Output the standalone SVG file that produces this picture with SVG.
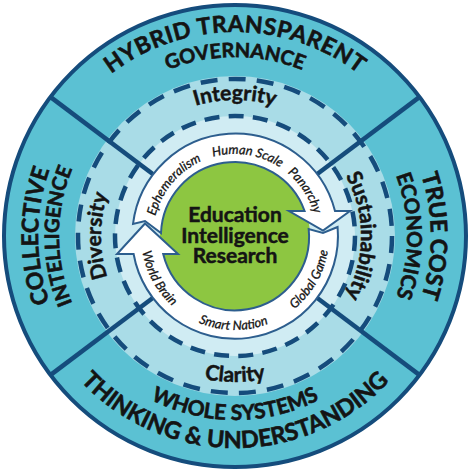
<svg xmlns="http://www.w3.org/2000/svg" width="470" height="470" viewBox="0 0 470 470">
<style>
.big{font-family:Lato,"Open Sans","Liberation Sans",sans-serif;font-weight:700;fill:#141414;stroke:#141414;stroke-width:0.6}
.mid{font-family:Lato,"Open Sans","Liberation Sans",sans-serif;font-weight:700;fill:#141414;stroke:#141414;stroke-width:0.5;font-size:21px}
.sm{font-family:Lato,"Open Sans","Liberation Sans",sans-serif;font-style:italic;fill:#141414;stroke:#141414;stroke-width:0.3;font-size:12.8px}
.ctr{font-family:Lato,"Open Sans","Liberation Sans",sans-serif;font-weight:700;fill:#141414;stroke:#141414;stroke-width:0.5;font-size:21px;text-anchor:middle}
.dash1{fill:none;stroke:#154C7C;stroke-width:4.5;stroke-dasharray:17 11.2}
.dash2{fill:none;stroke:#154C7C;stroke-width:4.5;stroke-dasharray:15 9.3}
.div{stroke:#154C7C;stroke-width:4.5;stroke-linecap:butt}
.arrow{fill:#fff;stroke:#2D5E8E;stroke-width:2;stroke-linejoin:miter}
</style>
<defs>
<path id="pTop1" d="M 31 236 A 204 204 0 0 1 439 236"/>
<path id="pTop2" d="M 56 236 A 179 179 0 0 1 414 236"/>
<path id="pLeft1" d="M 235 433 A 197 197 0 0 1 235 39"/>
<path id="pLeft2" d="M 235 412 A 176 176 0 0 1 235 60"/>
<path id="pRight1" d="M 235 40 A 196 196 0 0 1 235 432"/>
<path id="pRight2" d="M 235 64 A 172 172 0 0 1 235 408"/>
<path id="pBot1" d="M 51 236 A 184 184 0 0 0 419 236"/>
<path id="pBot2" d="M 23 236 A 212 212 0 0 0 447 236"/>
<path id="pInteg" d="M 99 236 A 136 136 0 0 1 371 236"/>
<path id="pClar" d="M 89 236 A 146 146 0 0 0 381 236"/>
<path id="pDiv" d="M 235 370 A 134 134 0 0 1 235 102"/>
<path id="pSust" d="M 235 110 A 126 126 0 0 1 235 362"/>
<path id="pEph" d="M 153.31 243.15 A 82 82 0 0 1 227.85 154.31"/>
<path id="pHum" d="M 186.8 169.66 A 82 82 0 0 1 301.34 187.8"/>
<path id="pPan" d="M 252.05 155.8 A 82 82 0 0 1 315.2 253.05"/>
<path id="pGlob" d="M 259.33 326.8 A 94 94 0 0 0 325.8 211.67"/>
<path id="pSmart" d="M 167.38 301.3 A 94 94 0 0 0 300.3 303.6"/>
<path id="pWorld" d="M 144.64 210.09 A 94 94 0 0 0 209.09 326.36"/>
</defs>
<rect width="470" height="470" fill="#fff"/>
<g id="rings">
<circle cx="235" cy="236" r="231" fill="#5BC1D3" stroke="#154C7C" stroke-width="4"/>
<circle cx="235" cy="236" r="160" fill="#A9DCE7"/>
<circle cx="235" cy="236" r="120" fill="#D0ECF3"/>
<circle class="dash1" cx="235" cy="236" r="157"/>
<circle class="dash2" cx="235" cy="236" r="120"/>
<line class="div" x1="317.26" y1="297.99" x2="418.68" y2="374.41"/>
<line class="div" x1="152.74" y1="297.99" x2="51.32" y2="374.41"/>
<line class="div" x1="152.74" y1="174.01" x2="51.32" y2="97.59"/>
<line class="div" x1="317.26" y1="174.01" x2="418.68" y2="97.59"/>
</g>
<g id="center">
<circle cx="235" cy="236" r="75" fill="#8DC641"/>
<text class="ctr" x="235" y="222">Education</text>
<text class="ctr" x="235" y="243">Intelligence</text>
<text class="ctr" x="235" y="263">Research</text>
</g>
<g id="connectors">
<path class="arrow" d="M 133 224 A 103 103 0 0 1 335 211 L 350 211 L 323 230.5 L 289 211 L 304.6 211 A 74 74 0 0 0 161 233 L 145 221 Z"/>
<path class="arrow" d="M 337.6 227 L 323 233 L 308.7 229 A 74 74 0 0 1 163.2 254 L 178 254 L 145 223.5 L 117 254 L 133.6 254 A 103 103 0 0 0 337.6 227 Z"/>
</g>
<g id="label-ephemeralism"><text class="sm" text-anchor="middle"><textPath href="#pEph" startOffset="50%">Ephemeralism</textPath></text></g>
<g id="label-human-scale"><text class="sm" text-anchor="middle"><textPath href="#pHum" startOffset="50%">Human Scale</textPath></text></g>
<g id="label-panarchy"><text class="sm" text-anchor="middle"><textPath href="#pPan" startOffset="50%">Panarchy</textPath></text></g>
<g id="label-global-game"><text class="sm" text-anchor="middle"><textPath href="#pGlob" startOffset="50%">Global Game</textPath></text></g>
<g id="label-smart-nation"><text class="sm" text-anchor="middle"><textPath href="#pSmart" startOffset="50%">Smart Nation</textPath></text></g>
<g id="label-world-brain"><text class="sm" text-anchor="middle"><textPath href="#pWorld" startOffset="50%">World Brain</textPath></text></g>
<g id="integrity"><text class="mid" text-anchor="middle"><textPath href="#pInteg" startOffset="50%">Integrity</textPath></text></g>
<g id="clarity"><text class="mid" text-anchor="middle"><textPath href="#pClar" startOffset="50%">Clarity</textPath></text></g>
<g id="diversity"><text class="mid" text-anchor="middle"><textPath href="#pDiv" startOffset="50%">Diversity</textPath></text></g>
<g id="sustainability"><text class="mid" text-anchor="middle"><textPath href="#pSust" startOffset="50%">Sustainability</textPath></text></g>
<g id="hybrid-governance">
<text class="big" font-size="23" letter-spacing="0.6" text-anchor="middle"><textPath href="#pTop1" startOffset="50%">HYBRID TRANSPARENT</textPath></text>
<text class="big" font-size="20" text-anchor="middle"><textPath href="#pTop2" startOffset="50%">GOVERNANCE</textPath></text>
</g>
<g id="collective-intelligence">
<text class="big" font-size="23" text-anchor="middle"><textPath href="#pLeft1" startOffset="50%">COLLECTIVE</textPath></text>
<text class="big" font-size="20" text-anchor="middle"><textPath href="#pLeft2" startOffset="50%">INTELLIGENCE</textPath></text>
</g>
<g id="true-cost-economics">
<text class="big" font-size="23" text-anchor="middle"><textPath href="#pRight1" startOffset="50%">TRUE COST</textPath></text>
<text class="big" font-size="20.5" text-anchor="middle"><textPath href="#pRight2" startOffset="50%">ECONOMICS</textPath></text>
</g>
<g id="whole-systems">
<text class="big" font-size="21" text-anchor="middle"><textPath href="#pBot1" startOffset="50%">WHOLE SYSTEMS</textPath></text>
<text class="big" font-size="23.5" text-anchor="middle"><textPath href="#pBot2" startOffset="50%">THINKING &amp; UNDERSTANDING</textPath></text>
</g>
</svg>
